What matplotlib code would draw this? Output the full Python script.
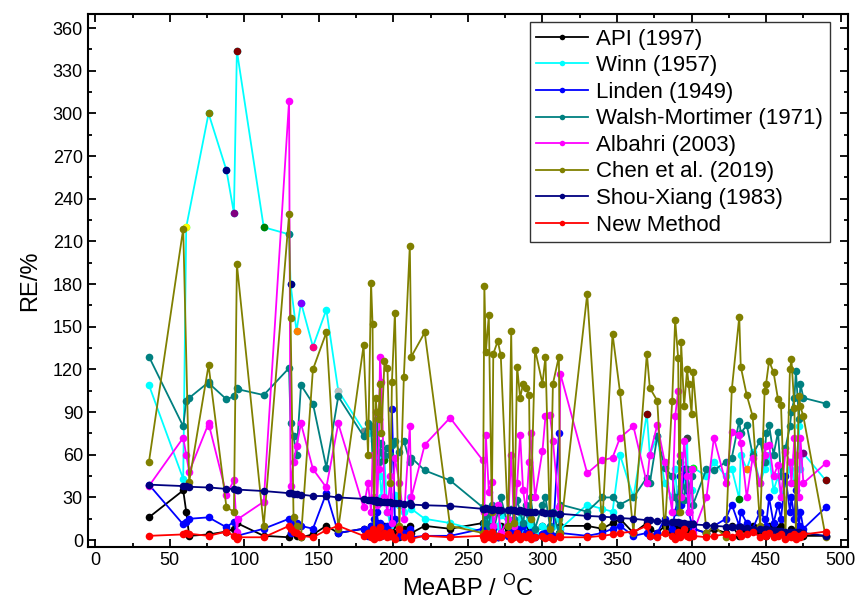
import numpy as np
import matplotlib
matplotlib.use("Agg")
import matplotlib.pyplot as plt
from matplotlib.ticker import MultipleLocator

plt.rcParams['font.family'] = ['Liberation Sans', 'DejaVu Sans']
plt.rcParams['mathtext.fontset'] = 'custom'
plt.rcParams['mathtext.rm'] = 'Liberation Sans'

nan = np.nan

# MeABP of the samples (degC)
meabp = [36, 59, 61, 63, 76, 76.5, 88, 93, 95, 96,
         113, 130, 131, 133, 135, 138, 146, 155, 163, 180,
         183, 185, 186, 187, 188, 189, 190, 191, 192, 194,
         196, 198, 199, 201, 204, 207, 211, 212, 221, 238,
         260, 261, 262, 264, 266, 267, 270, 272, 277, 279,
         281, 283, 285, 287, 289, 291, 292, 295, 300, 302,
         305, 307, 311, 312, 330, 340, 347, 352, 361, 370,
         372, 377, 382, 387, 389, 391, 392, 393, 395, 397,
         398, 400, 401, 410, 415, 423, 427, 432, 433, 437,
         441, 446, 449, 450, 452, 455, 458, 460, 463, 466,
         467, 469, 470, 472, 473, 475, 490]

# relative error (%) of each method
api = [16, 35, 20, 3, 4, nan, 6, 8, 12, nan,
       3, 2, 5, 8, 3, 2, 4, 10, 5, 8,
       5, 10, 3, 8, 5, 12, 3, 8, 5, 10,
       8, 3, 10, 5, 2, 8, 10, 5, 10, 8,
       12, 5, 8, 3, 10, 5, 2, 10, 8, 5,
       10, 3, 8, 5, 10, 3, 8, 5, 10, 5,
       8, 3, 5, 10, 10, 8, 12, 15, 5, 12,
       8, 5, 10, 5, 8, 12, 5, 10, 5, 8,
       5, 10, 8, 5, 8, 5, 10, 3, 8, 5,
       10, 5, 8, 3, 10, 5, 8, 10, 5, 3,
       8, 5, 3, 10, 5, 3, 3]

winn = [109, 43, 220, nan, 300, nan, 260, 230, 344, nan,
        220, 215, 180, nan, 147, 167, 136, 162, 105, 77,
        75, 80, 60, 70, 65, 50, 60, 45, 30, 56,
        20, 10, 15, 32, 25, 20, 30, 22, 15, 12,
        6, 10, 8, 15, 20, 5, 10, 18, 12, 8,
        5, 10, 15, 8, 12, 20, 10, 5, 10, 8,
        5, 10, 15, 8, 25, 22, 20, 60, 30, 89,
        60, 73, 40, 30, 50, 20, 25, 60, 40, 72,
        20, 35, 51, 45, 55, 45, 50, 29, 60, 50,
        62, 40, 50, 55, 60, 35, 45, 30, 40, 50,
        55, 40, 40, 80, 50, 61, 42]

linden = [39, 11, 13, 15, 16, nan, 9, 13, 3, nan,
          8, 15, 5, 11, 12, 10, 8, 33, 5, 8,
          3, 10, 5, 15, 8, 20, 5, 12, 3, 8,
          10, 5, 92, 15, 3, 5, 8, 2, 3, 3,
          8, 2, 10, 3, 5, 8, 2, 5, 3, 6,
          4, 8, 3, 10, 5, 3, 6, 2, 4, 5,
          5, 3, 75, 5, 3, 5, 8, 10, 3, 5,
          3, 5, 15, 8, 20, 30, 45, 25, 50, 35,
          20, 12, 8, 5, 10, 15, 25, 10, 20, 12,
          8, 20, 15, 10, 30, 12, 25, 15, 45, 20,
          30, 15, 35, 10, 20, 8, 23]

walsh = [129, 80, 98, 100, 111, 110, 99, 101, 107, 106,
         102, 121, 82, 73, 60, 109, 96, 51, 101, 73,
         82, 80, 60, 75, 70, 85, 55, 62, 68, 60,
         65, 60, 67, 70, 62, 70, 55, 58, 49, 42,
         23, 12, 18, 10, 25, 5, 20, 30, 10, 22,
         15, 28, 20, 12, 25, 18, 30, 8, 25, 30,
         10, 20, 5, 25, 20, 30, 30, 25, 30, 44,
         40, 73, 51, 45, 30, 20, 55, 38, 28, 50,
         35, 45, 25, 50, 49, 55, 58, 84, 75, 81,
         60, 70, 55, 75, 81, 60, 76, 45, 65, 80,
         90, 100, 119, 85, 110, 100, 96]

albahri = [38, 72, 60, 48, 82, 80, 32, 42, 6, 15,
           27, 309, 38, 55, 66, 82, 50, 37, 82, 23,
           40, 20, 60, 30, 90, 25, 50, 129, 111, 30,
           20, 45, 12, 58, 40, 15, 80, 30, 67, 86,
           56, 20, 74, 34, 41, 10, 25, 5, 15, 60,
           10, 40, 74, 35, 20, 55, 75, 30, 63, 87,
           88, 70, 23, 117, 47, 56, 58, 72, 80, 40,
           60, 81, 55, 20, 87, 105, 60, 30, 70, 45,
           20, 50, 5, 30, 72, 40, 76, 74, 68, 30,
           58, 40, 60, 66, 67, 45, 53, 30, 62, 55,
           40, 72, 60, 30, 72, 40, 54]

chen = [55, 219, nan, 41, 123, nan, 23, 20, 194, nan,
        10, 229, 156, 16, 10, 2, 120, 146, 8, 137,
        60, 181, 152, 5, 100, 90, 85, 110, 75, 126,
        121, 40, 111, 160, 10, 115, 207, 129, 146, 10,
        5, 179, 132, 158, 20, 131, 140, 130, 10, 147,
        12, 122, 100, 110, 107, 102, 15, 134, 110, 129,
        8, 110, 129, 5, 173, 10, 145, 104, 5, 131,
        107, 98, 5, 98, 155, 128, 20, 139, 94, 120,
        110, 89, 118, 5, 10, 2, 106, 157, 122, 102,
        87, 10, 105, 110, 126, 118, 99, 95, 5, 120,
        127, 93, 2, 101, 94, 87, 2]

shou = [39, 38, 38, 37.5, 37, 37, 36, 36, 35.5, 35.5,
        34.5, 33, 33, 32.5, 32.5, 32, 31, 31, 30, 29,
        28.5, 28, 28, 27.5, 28, 27, 27.5, 27, 26.5, 27,
        27, 26.5, 26, 26, 26, 25.5, 26, 25, 24.5, 24,
        22, 22, 22.5, 22, 21.5, 22, 21.5, 21, 21, 21,
        21, 20.5, 21, 20.5, 20, 20, 20, 19.5, 19.5, 19,
        19, 19, 18.5, 18.5, 17, 16.5, 16, 15.5, 15, 14,
        14, 13.5, 13, 13, 12.5, 12.5, 12, 12, 12, 11.5,
        11.5, 11, 11, 10.5, 10, 9.5, 9.5, 9, 9, 8.5,
        8, 8, 7.5, 7.5, 7, 7, 6.5, 6.5, 6, 6,
        6, 5.5, 5.5, 5.5, 5, 5, 3]

new_method = [3, 4, 5, 4.5, 3, nan, 6, 3, 1, 2,
              2, 10, 8, 6, 5, 3, 2, 7, 10, 3,
              5, 2, 8, 1, 4, 6, 2, 9, 3, 5,
              2, 6, 3, 1, 8, 2, 4, 1, 3, 2,
              3, 1, 5, 2, 6, 1, 3, 2, 4, 1,
              2, 5, 1, 3, 2, 4, 1, 2, 3, 1.5,
              2, 1, 3, 2, 2, 3, 4, 5, 6, 10,
              3, 2, 5, 3, 1, 6, 2, 4, 8, 3,
              2, 5, 3, 2, 3, 4, 2, 5, 3, 4,
              6, 2, 4, 3, 5, 2, 3, 4, 1, 3,
              2, 4, 1, 3, 2, 4, 6]

labels = ["API (1997)", "Winn (1957)", "Linden (1949)", "Walsh-Mortimer (1971)",
          "Albahri (2003)", "Chen et al. (2019)", "Shou-Xiang (1983)", "New Method"]
series = [api, winn, linden, walsh, albahri, chen, shou, new_method]
colors = ["#000000", "#00FFFF", "#0000FF", "#008080",
          "#FF00FF", "#808000", "#000080", "#FF0000"]

# Winn markers that are drawn in other colours in the original
winn_odd = {61: "#FFFF00", 76: "#808000", 88: "#000080", 93: "#800080", 95: "#800000",
            113: "#008000", 130: "#008080", 131: "#000080", 135: "#FF8000", 138: "#8000FF",
            146: "#FF0080", 163: "#C0C0C0", 180: "#808080", 194: "#008000", 370: "#800000",
            397: "#404040", 401: "#00FF00", 432: "#008000", 437: "#FF8000", 469: "#00FF00",
            475: "#800080", 490: "#800000"}

x = np.array(meabp, dtype=float)

fig = plt.figure(figsize=(8.61, 6.04), dpi=100)
ax = fig.add_axes([0.102, 0.094, 0.883, 0.883])

handles = []
for vals, lab, c in zip(series, labels, colors):
    y = np.array(vals, dtype=float)
    m = ~np.isnan(y)
    ax.plot(x[m], y[m], '-', color=c, lw=1.3)
    ax.plot(x[m], y[m], 'o', color=c, ms=5.5, mec='none')
    if lab.startswith("Winn"):
        for xi, yi in zip(x[m], y[m]):
            if xi in winn_odd:
                ax.plot(xi, yi, 'o', color=winn_odd[xi], ms=5.5, mec='none')
    h, = ax.plot([], [], '-o', color=c, lw=1.3, ms=4, mec='none', label=lab)
    handles.append(h)

ax.set_xlim(-5, 505)
ax.set_ylim(-5, 370)
ax.xaxis.set_major_locator(MultipleLocator(50))
ax.xaxis.set_minor_locator(MultipleLocator(25))
ax.yaxis.set_major_locator(MultipleLocator(30))
ax.yaxis.set_minor_locator(MultipleLocator(15))
ax.tick_params(which='both', direction='in', top=True, right=True, labelsize=13, width=1.3)
ax.tick_params(which='major', length=6)
ax.tick_params(which='minor', length=3)
for s in ax.spines.values():
    s.set_linewidth(1.5)

ax.set_xlabel(r"MeABP / $^\mathregular{O}$C", fontsize=17, labelpad=4)
ax.set_ylabel("RE/%", fontsize=17, labelpad=8)

leg = ax.legend(handles=handles, loc='upper right', bbox_to_anchor=(830 / 861, 1 - 22 / 604),
                bbox_transform=fig.transFigure, borderaxespad=0, fontsize=16,
                frameon=True, fancybox=False, handlelength=2.3, labelspacing=0.25,
                handletextpad=0.4, borderpad=0.3)
leg.get_frame().set_edgecolor('black')
leg.get_frame().set_linewidth(1.0)

fig.savefig("out.png", dpi=100)
